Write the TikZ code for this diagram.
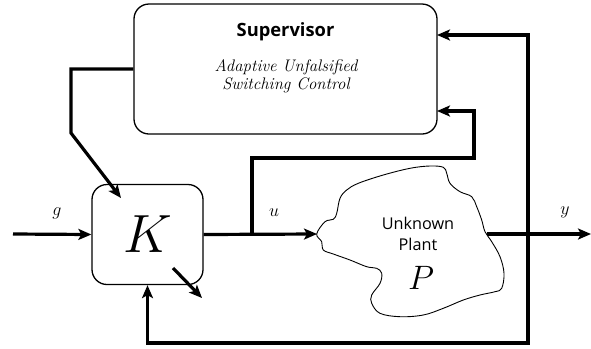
\RequirePackage{fix-cm}
\documentclass[tikz,border=0pt]{standalone}
\usepackage{fontspec}
\newfontfamily\labelsans{Open Sans}
\usetikzlibrary{arrows.meta}
\begin{document}
\begin{tikzpicture}[x=1bp,y=-1bp,
  wire/.style={line width=3.2bp, -{Stealth[length=13bp,width=11bp,inset=3bp]}},
  block/.style={draw, line width=1.3bp, rounded corners=15bp, inner sep=0pt},
  sig/.style={font=\fontsize{18}{20}\selectfont},
  captionit/.style={anchor=base, font=\itshape\fontsize{16.8}{18}\selectfont\addfontfeature{WordSpace=0.7}},
]
\useasboundingbox (0,0) rectangle (591,348);

% Supervisor block
\node[block, minimum width=303bp, minimum height=130bp] (sup) at (285.5,69) {};
\node[anchor=base, font=\labelsans\bfseries\fontsize{18.4}{21}\selectfont] (suptitle) at (285.5,36) {Supervisor};
\node[captionit] (supl1) at (286,71) {Adaptive Unfalsified};
\node[captionit] (supl2) at (286,89) {Switching Control};

% Controller block
\node[block, minimum width=111bp, minimum height=100bp] (K) at (147.5,234.5) {\fontsize{54}{60}\selectfont$K$};

% Plant outline
\draw[line width=0.9bp] plot[smooth cycle, tension=0.6] coordinates {
  (316.7,234) (325,221.7) (333.3,219.3) (336.7,213.3) (340,198.3) (346.7,190)
  (358.3,183.3) (383.3,175) (410,168.3) (430,166) (443.3,167.3) (446.7,173.3)
  (450,183.3) (460,191.7) (471.7,196.7) (476.7,206.7) (481.7,220) (485,231.7)
  (491.7,241.7) (500,256.7) (504,273.3) (501.7,288.3) (495,291.7) (480,295)
  (463.3,300) (443.3,308.3) (423.3,315) (400,316.7) (380,313.3) (371.7,303.3)
  (371.7,295) (380,283.3) (381.7,273.3) (376.7,268.3) (366.7,266.7) (350,260)
  (333.3,254) (323.3,250) (321.7,241.7)};
\node[anchor=base, font=\labelsans\fontsize{16.3}{20}\selectfont] (plant1) at (418,229.3) {Unknown};
\node[anchor=base, font=\labelsans\fontsize{16.3}{20}\selectfont] (plant2) at (418,250) {Plant};
\node[anchor=base] (plantP) at (421,289.3) {\fontsize{34}{40}\selectfont$P$};

% Connection points
\coordinate (gin) at (13,234);
\coordinate (pin) at (317,234);
\coordinate (pout) at (487,234);
\coordinate (yout) at (591,234);
\coordinate (ubr) at (252,234);
\coordinate (uc1) at (474,158);
\coordinate (supin2) at (437,111);
\coordinate (supin1) at (437,35);
\coordinate (ybr) at (528,234);
\coordinate (fbbot) at (528,343);
\coordinate (sc2) at (71,133);
\coordinate (ktip) at (121,198);
\coordinate (kd1) at (173,268);
\coordinate (kd2) at (202,298);

% Signal labels
\node[sig] (glab) at (57,213) {$g$};
\node[sig] (ulab) at (274,213) {$u$};
\node[sig] (ylab) at (565,212) {$y$};

% Signal paths
\draw[wire] (gin) -- (K.west);
\draw[wire] (K.east) -- (pin);
\draw[wire] (pout) -- (yout);
\draw[wire] (ubr) |- (uc1) |- (supin2);
\draw[wire] (ybr) |- (supin1);
\draw[wire] (ybr) -- (fbbot) -| (K.south);
\draw[wire] (sup.west) -| (sc2) -- (ktip);
\draw[wire] (kd1) -- (kd2);
\end{tikzpicture}
\end{document}
